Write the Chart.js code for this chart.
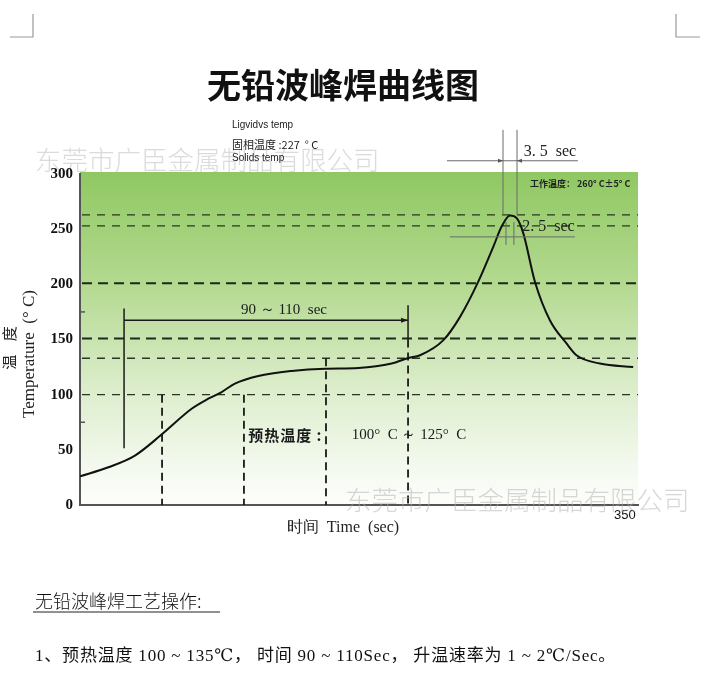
<!DOCTYPE html>
<html><head><meta charset="utf-8">
<script src="https://cdn.jsdelivr.net/npm/chart.js@4.4.1/dist/chart.umd.min.js"></script>
<style>html,body{margin:0;padding:0;background:#fff;}canvas{display:block;}</style>
</head><body>
<canvas id="c" width="721" height="679"></canvas>
<script>
// ---- data ----
const timeSec = [0,18.2,35.3,52.2,71.7,82.4,91.0,99.5,114.5,135.9,157.4,178.8,200.2,210.9,218.4,233.4,244.1,255.8,265.5,270.8,276.2,280.5,284.7,292.2,301.8,312.5,318.9,333.9,355.3];
const tempC   = [26,34.2,44.8,63.6,87.2,96.3,102.4,110,116.9,121.5,123.6,124.2,128.2,133.3,135.7,149.4,170.5,202.4,234.2,252.4,262.4,260,246.4,202.4,167.5,146.4,135.7,128.2,125];
const yTickValues = [0,50,100,150,200,250,300];
const xTickValues = [350];
const refTempsHeavy = [201,151];
const refTempsLight = [263,253,133,100];
const zoneTimes = [52.7,105.3,158.0,210.7];
const zoneTops  = [100,100,133,150];

const SERIF = '"Liberation Serif","DejaVu Serif",serif';
const SANS = '"Liberation Sans",Arial,sans-serif';
const CJK = '"Noto Sans CJK SC",sans-serif';

function line(ctx,x1,y1,x2,y2){ctx.beginPath();ctx.moveTo(x1,y1);ctx.lineTo(x2,y2);ctx.stroke();}

const bgPlugin = {
  id:'bg',
  beforeDraw(chart){
    const {ctx, chartArea:a} = chart;
    ctx.save();
    ctx.fillStyle='#fff';ctx.fillRect(0,0,chart.width,chart.height);
    const g = ctx.createLinearGradient(0,a.top-2,0,a.bottom);
    g.addColorStop(0,'#8fc862');
    g.addColorStop(0.35,'#b5da92');
    g.addColorStop(0.65,'#dcedcb');
    g.addColorStop(0.88,'#f3f9ee');
    g.addColorStop(1,'#fdfefc');
    ctx.fillStyle=g;
    ctx.fillRect(a.left,a.top-2,a.right-a.left,a.bottom-a.top+2);
    // watermark 1
    ctx.fillStyle='rgba(175,175,175,0.45)';
    ctx.font='300 26.5px '+CJK;
    ctx.textBaseline='middle';ctx.textAlign='left';
    ctx.fillText('东莞市广臣金属制品有限公司',35,160);
    ctx.restore();
  },
  beforeDatasetsDraw(chart){
    const {ctx, chartArea:a, scales:{x,y}} = chart;
    ctx.save();
    ctx.strokeStyle='#1e2a18';
    ctx.lineWidth=2;ctx.setLineDash([10,6]);
    refTempsHeavy.forEach(v=>line(ctx,a.left+2,y.getPixelForValue(v),a.right,y.getPixelForValue(v)));
    ctx.lineWidth=1.3;ctx.setLineDash([8,7]);ctx.strokeStyle='#2b3526';
    refTempsLight.forEach(v=>line(ctx,a.left+2,y.getPixelForValue(v),a.right,y.getPixelForValue(v)));
    // vertical zone lines
    ctx.lineWidth=1.8;ctx.setLineDash([8,5]);ctx.strokeStyle='#1a1a1a';
    zoneTimes.forEach((t,i)=>line(ctx,x.getPixelForValue(t),y.getPixelForValue(zoneTops[i]),x.getPixelForValue(t),a.bottom));
    ctx.setLineDash([]);
    // minor ticks on y axis
    ctx.strokeStyle='#555';ctx.lineWidth=1.5;
    [75,175].forEach(v=>line(ctx,a.left,y.getPixelForValue(v),a.left+5,y.getPixelForValue(v)));
    ctx.restore();
  },
  afterDatasetsDraw(chart){
    const {ctx, chartArea:a, scales:{x,y}} = chart;
    const X=t=>x.getPixelForValue(t), Y=v=>y.getPixelForValue(v);
    ctx.save();
    // 90~110 sec bracket
    ctx.strokeStyle='#1a1a1a';ctx.lineWidth=1.5;
    line(ctx,X(28.3),Y(178),X(28.3),Y(51.5));
    line(ctx,X(210.7),Y(181),X(210.7),Y(150));
    line(ctx,X(28.3),Y(167.5),X(210.7),Y(167.5));
    ctx.fillStyle='#1a1a1a';
    ctx.beginPath();ctx.moveTo(X(210.7),Y(167.5));ctx.lineTo(X(210.7)-7,Y(167.5)-2.5);ctx.lineTo(X(210.7)-7,Y(167.5)+2.5);ctx.closePath();ctx.fill();
    ctx.font='15px '+SERIF;ctx.textAlign='center';ctx.textBaseline='middle';
    ctx.fillText('90 ～ 110  sec',X(131),Y(176.5));
    // preheat text
    ctx.textAlign='left';
    ctx.font='bold 15px '+CJK;
    ctx.letterSpacing='1px';
    ctx.fillText('预热温度 :',X(108),Y(63));
    ctx.letterSpacing='0px';
    ctx.font='15px '+SERIF;
    ctx.fillText('100°  C ～ 125°  C',X(174.5),Y(63));
    // peak markers 3.5 sec
    ctx.strokeStyle='#6a6a6a';ctx.lineWidth=1;
    line(ctx,X(271.7),Y(340),X(271.7),Y(263));
    line(ctx,X(280.7),Y(340),X(280.7),Y(263));
    line(ctx,X(235.7),Y(312),X(319.8),Y(312));
    ctx.fillStyle='#555';
    ctx.beginPath();ctx.moveTo(X(271.7),Y(312));ctx.lineTo(X(271.7)-5,Y(312)-2);ctx.lineTo(X(271.7)-5,Y(312)+2);ctx.closePath();ctx.fill();
    ctx.beginPath();ctx.moveTo(X(280.7),Y(312));ctx.lineTo(X(280.7)+5,Y(312)-2);ctx.lineTo(X(280.7)+5,Y(312)+2);ctx.closePath();ctx.fill();
    ctx.fillStyle='#222';ctx.font='16px '+SERIF;ctx.textBaseline='middle';
    ctx.fillText('3. 5  sec',X(285),Y(320));
    // 2.5 sec
    ctx.strokeStyle='#6a6a6a';
    line(ctx,X(273.6),Y(256.6),X(273.6),Y(235.7));
    line(ctx,X(278.7),Y(256.6),X(278.7),Y(235.7));
    line(ctx,X(237.6),Y(243),X(317.9),Y(243));
    ctx.fillStyle='#222';
    ctx.fillText('2. 5  sec',X(284),Y(252));
    // working temperature
    ctx.font='bold 9px '+CJK;ctx.fillStyle='#222';
    ctx.fillText('工作温度： 260° C±5° C',530,184);
    ctx.restore();
  },
  afterDraw(chart){
    const {ctx} = chart;
    ctx.save();
    // watermark 2
    ctx.fillStyle='rgba(175,175,175,0.5)';
    ctx.font='300 26.5px '+CJK;ctx.textBaseline='middle';ctx.textAlign='left';
    ctx.fillText('东莞市广臣金属制品有限公司',345,500);
    // title
    ctx.fillStyle='#111';ctx.textAlign='center';
    ctx.font='bold 34px '+CJK;
    ctx.fillText('无铅波峰焊曲线图',343,85);
    // top-left labels
    ctx.textAlign='left';ctx.fillStyle='#222';
    ctx.font='10px '+SANS;ctx.fillText('Ligvidvs temp',232,125);
    ctx.font='11px '+CJK;ctx.fillText('固相温度 :227  ° C',232,145);
    ctx.font='10px '+SANS;ctx.fillText('Solids temp',232,158);
    // axis titles
    ctx.fillStyle='#222';
    ctx.save();ctx.translate(30,354);ctx.rotate(-Math.PI/2);
    ctx.textAlign='center';ctx.font='17px '+SERIF;ctx.fillText('Temperature  (° C)',0,0);ctx.restore();
    ctx.save();ctx.translate(9,348);ctx.rotate(-Math.PI/2);
    ctx.textAlign='center';ctx.font='15px '+CJK;ctx.fillText('温    度',0,0);ctx.restore();
    ctx.textAlign='center';ctx.font='16px '+SERIF;
    ctx.fillText('时间  Time  (sec)',343,528);
    // corner marks
    ctx.strokeStyle='#999';ctx.lineWidth=1.2;
    ctx.beginPath();ctx.moveTo(33,14);ctx.lineTo(33,37);ctx.lineTo(10,37);ctx.stroke();
    ctx.beginPath();ctx.moveTo(676,14);ctx.lineTo(676,37);ctx.lineTo(700,37);ctx.stroke();
    // bottom text
    ctx.textAlign='left';ctx.fillStyle='#111';
    ctx.font='300 18px '+CJK;
    ctx.fillText('无铅波峰焊工艺操作:',35,601);
    ctx.strokeStyle='#222';ctx.lineWidth=1;
    line(ctx,33,612,220,612);
    ctx.font='17px '+SERIF+','+CJK;
    ctx.letterSpacing='0.8px';
    ctx.fillText('1、预热温度 100 ~ 135℃， 时间 90 ~ 110Sec， 升温速率为 1 ~ 2℃/Sec。',35,657);
    ctx.letterSpacing='0px';
    ctx.restore();
  }
};

new Chart(document.getElementById('c').getContext('2d'),{
  type:'line',
  data:{datasets:[{
    data: timeSec.map((t,i)=>({x:t,y:tempC[i]})),
    borderColor:'#111', borderWidth:2, pointRadius:0,
    cubicInterpolationMode:'monotone', fill:false
  }]},
  options:{
    responsive:false, animation:false, devicePixelRatio:1,
    layout:{padding:{left:0,top:174,right:83,bottom:152}},
    plugins:{legend:{display:false},tooltip:{enabled:false}},
    scales:{
      x:{type:'linear',min:0,max:358.4,
         grid:{display:false,drawTicks:false},
         border:{display:true,color:'#555',width:2},
         ticks:{padding:3,color:'#111',autoSkip:false,maxRotation:0,font:{family:SANS,size:13}},
         afterBuildTicks:s=>{s.ticks=xTickValues.map(v=>({value:v}));},
         afterFit:s=>{s.height=22;}},
      y:{min:0,max:300,
         grid:{display:false,drawTicks:false},
         border:{display:true,color:'#555',width:2},
         ticks:{padding:7,color:'#111',font:{family:SERIF,size:15,weight:'bold'}},
         afterBuildTicks:s=>{s.ticks=yTickValues.map(v=>({value:v}));},
         afterFit:s=>{s.width=80;}}
    }
  },
  plugins:[bgPlugin]
});
</script>
</body></html>
